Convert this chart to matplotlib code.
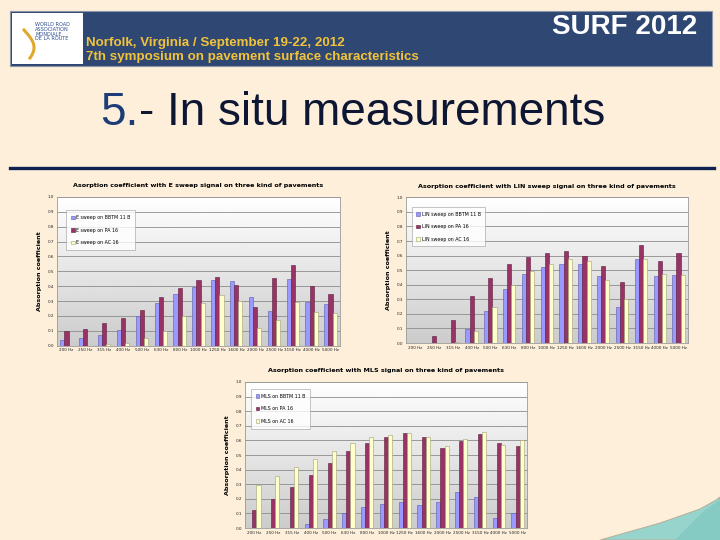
import numpy as np
import matplotlib.pyplot as plt
from matplotlib.patches import Rectangle, Polygon

# frequency bands (same for all three charts)
freqs = ['200 Hz', '250 Hz', '315 Hz', '400 Hz', '500 Hz', '630 Hz', '800 Hz', '1000 Hz',
         '1250 Hz', '1600 Hz', '2000 Hz', '2500 Hz', '3150 Hz', '4000 Hz', '5000 Hz']

# E sweep
e_bbtm = [0.04, 0.05, 0.07, 0.105, 0.20, 0.285, 0.35, 0.395, 0.44, 0.435, 0.33, 0.235, 0.45, 0.295, 0.28]
e_pa = [0.10, 0.11, 0.15, 0.185, 0.24, 0.325, 0.39, 0.44, 0.465, 0.405, 0.26, 0.455, 0.54, 0.40, 0.345]
e_ac = [0.0, 0.0, 0.01, 0.015, 0.055, 0.10, 0.20, 0.285, 0.34, 0.30, 0.12, 0.175, 0.295, 0.225, 0.22]

# LIN sweep
lin_bbtm = [0.0, 0.0, 0.0, 0.095, 0.22, 0.37, 0.475, 0.52, 0.545, 0.54, 0.46, 0.245, 0.575, 0.46, 0.47]
lin_pa = [0.0, 0.05, 0.155, 0.325, 0.445, 0.54, 0.59, 0.615, 0.63, 0.595, 0.53, 0.42, 0.67, 0.565, 0.62]
lin_ac = [0.0, 0.0, 0.005, 0.085, 0.245, 0.40, 0.495, 0.545, 0.58, 0.56, 0.435, 0.30, 0.575, 0.475, 0.47]

# MLS
mls_bbtm = [0.0, 0.0, 0.0, 0.025, 0.065, 0.105, 0.145, 0.165, 0.175, 0.155, 0.175, 0.25, 0.21, 0.07, 0.10]
mls_pa = [0.12, 0.20, 0.28, 0.365, 0.445, 0.525, 0.585, 0.62, 0.65, 0.625, 0.55, 0.595, 0.645, 0.58, 0.565]
mls_ac = [0.295, 0.355, 0.415, 0.47, 0.53, 0.585, 0.62, 0.64, 0.65, 0.62, 0.56, 0.61, 0.655, 0.57, 0.60]

slide_bg = '#FDEFDA'
navy = '#2E4773'

fig = plt.figure(figsize=(7.2, 5.4), dpi=100)
fig.patch.set_facecolor(slide_bg)

# background axes in pixel coords
bg = fig.add_axes([0, 0, 1, 1])
bg.set_xlim(0, 720)
bg.set_ylim(540, 0)
bg.axis('off')
bg.set_zorder(0)

# header banner
bg.add_patch(Rectangle((10, 11), 702, 55, facecolor=navy, edgecolor='#8A95A8', lw=0.8))
bg.add_patch(Rectangle((12, 13), 71, 51, facecolor='white', edgecolor='none'))
bg.text(35, 22, 'WORLD ROAD\nASSOCIATION\nMONDIALE\nDE LA ROUTE', fontsize=3.6, color='#2B4B8C',
        va='top', ha='left', linespacing=0.95)
t = np.linspace(0, 1, 50)
bg.plot(24 + 10 * np.sin(t * 2.5), 30 + 28 * t, color='#E0A82A', lw=2.2)
bg.text(86, 43, 'Norfolk, Virginia / September 19-22, 2012', fontsize=9.6, color='#F2C33A',
        fontweight='bold', va='center', ha='left', family='Liberation Sans')
bg.text(86, 57, '7th symposium on pavement surface characteristics', fontsize=9.6, color='#F2C33A',
        fontweight='bold', va='center', ha='left', family='Liberation Sans')
bg.text(697, 27, 'SURF 2012', fontsize=20, color='white', fontweight='bold',
        va='center', ha='right', family='Liberation Sans')

# slide title, "5." in blue then the rest placed right after it
t5 = bg.text(100, 113, '5.', fontsize=33, color='#1E3C78', va='center', ha='left',
             family='Liberation Sans')
renderer = fig.canvas.get_renderer()
bb = t5.get_window_extent(renderer=renderer)
x_next = bb.x1 / fig.dpi / 7.2 * 720 + 1
bg.text(x_next, 113, '- In situ measurements', fontsize=33, color='#0D1633', va='center',
        ha='left', family='Liberation Sans')
bg.plot([10, 714], [168, 168], color='#0F2150', lw=2.4)

# teal corner
bg.add_patch(Polygon([(600, 540), (660, 523), (700, 509), (716, 500), (720, 497), (720, 540)],
                     closed=True, facecolor='#96D4CC', edgecolor='#B8A890', lw=0.6))
bg.add_patch(Polygon([(675, 540), (705, 510), (720, 500), (720, 540)], closed=True,
                     facecolor='#86CBC3', edgecolor='none'))

colors = ['#9999FF', '#993366', '#FFFFCC']
edges = ['#5C5CA8', '#5A1E3C', '#A0A078']


def bar_chart(rect, title, series, labels, leg_anchor):
    ax = fig.add_axes(rect)
    ax.set_zorder(2)
    x = np.arange(len(freqs))
    ax.imshow(np.linspace(1.0, 0.80, 100).reshape(-1, 1), cmap='gray', vmin=0, vmax=1,
              extent=[-0.5, len(freqs) - 0.5, 0, 1], aspect='auto', zorder=0)
    w = 0.22
    for i, (vals, lab) in enumerate(zip(series, labels)):
        ax.bar(x + (i - 1) * w, vals, w, color=colors[i], edgecolor=edges[i], lw=0.4,
               label=lab, zorder=3)
    ax.set_xlim(-0.5, len(freqs) - 0.5)
    ax.set_ylim(0, 1)
    ax.set_yticks(np.arange(0, 1.01, 0.1))
    ax.set_yticklabels(['%.1f' % v for v in np.arange(0, 1.01, 0.1)])
    ax.yaxis.grid(True, color='#8C8C8C', lw=0.6, zorder=1)
    ax.set_axisbelow(True)
    ax.set_xticks(x)
    ax.set_xticklabels(freqs)
    ax.tick_params(axis='both', labelsize=3.0, length=0, pad=2, colors='#222222')
    for s in ax.spines.values():
        s.set_color('#9A9A9A')
        s.set_linewidth(0.6)
    ax.set_title(title, fontsize=4.6, fontweight='bold', pad=7)
    ax.set_ylabel('Absorption coefficient', fontsize=4.6, fontweight='bold', labelpad=4)
    leg = ax.legend(loc='upper left', bbox_to_anchor=leg_anchor, fontsize=3.4, frameon=True,
                    fancybox=False, labelspacing=1.6, handlelength=0.8, handleheight=0.8,
                    handletextpad=0.3, borderpad=1.0, borderaxespad=0)
    leg.get_frame().set_edgecolor('#9A9A9A')
    leg.get_frame().set_linewidth(0.5)
    leg.set_zorder(5)
    return ax


bar_chart([0.0792, 0.3598, 0.393, 0.2754],
          'Asorption coefficient with E sweep signal on three kind of pavements',
          [e_bbtm, e_pa, e_ac],
          ['E sweep on BBTM 11 B', 'E sweep on PA 16', 'E sweep on AC 16'],
          (0.032, 0.91))
bar_chart([0.5635, 0.3648, 0.392, 0.2698],
          'Asorption coefficient with LIN sweep signal on three kind of pavements',
          [lin_bbtm, lin_pa, lin_ac],
          ['LIN sweep on BBTM 11 B', 'LIN sweep on PA 16', 'LIN sweep on AC 16'],
          (0.021, 0.935))
bar_chart([0.3403, 0.0222, 0.3917, 0.2704],
          'Asorption coefficient with MLS signal on three kind of pavements',
          [mls_bbtm, mls_pa, mls_ac],
          ['MLS on BBTM 11 B', 'MLS on PA 16', 'MLS on AC 16'],
          (0.021, 0.952))

fig.savefig('out.png', dpi=100, facecolor=fig.get_facecolor())
